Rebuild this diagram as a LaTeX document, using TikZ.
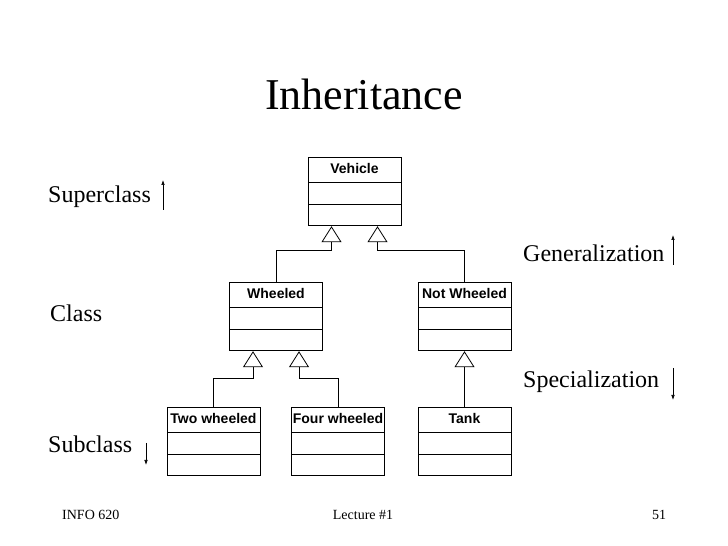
\documentclass[tikz,border=0pt]{standalone}
\usepackage{fontspec}
\setmainfont{Liberation Serif}
\setsansfont{Liberation Sans}
\usepackage{tikz}
\usetikzlibrary{shapes,arrows.meta}
\newcommand{\classstrut}{\rule[-8.5pt]{0pt}{24pt}}
\tikzset{
  every picture/.style={font={\rmfamily}, >={Latex[length=5pt,width=3.6pt]}}}

\begin{document}
\begin{tikzpicture}[x=1pt, y=1pt,
    umlclass/.style={
      draw, line width=0.8pt, anchor=north,
      font=\sffamily\bfseries\fontsize{14}{16}\selectfont,
      rectangle split,
      rectangle split parts=3,
      rectangle split empty part height=21pt,
      rectangle split empty part depth=0pt,
      inner xsep=1pt, inner ysep=0pt,
      minimum width=93pt},
    inherit/.style={draw, line width=0.8pt,
      -{Triangle[open, length=16pt, width=20pt, line width=0.8pt]}},
    sidelabel/.style={anchor=base west, inner sep=0pt,
      font=\fontsize{24}{28}\selectfont},
    updown/.style={line width=0.7pt, ->},
    footer/.style={inner sep=0pt, anchor=base,
      font=\fontsize{14}{16}\selectfont}]

    \useasboundingbox (0,0) rectangle (728,546);

    % title
    \node[inner sep=0pt, anchor=base, font=\fontsize{44}{50}\selectfont]
      (title) at (364,436) {Inheritance};

    % classes
    \node[umlclass] (vehicle) at (354.5,389) {\classstrut Vehicle};
    \node[umlclass] (wheeled) at (276,264) {\classstrut Wheeled};
    \node[umlclass] (notwheeled) at (464.5,264) {\classstrut Not Wheeled};
    \node[umlclass] (twowheeled) at (213.5,139) {\classstrut Two wheeled};
    \node[umlclass] (fourwheeled) at (338,139) {\classstrut Four wheeled};
    \node[umlclass] (tank) at (464.5,139) {\classstrut Tank};

    % generalization arrows
    \coordinate (vehicle-l) at ([xshift=-23pt]vehicle.south);
    \coordinate (vehicle-r) at ([xshift=23pt]vehicle.south);
    \coordinate (wheeled-l) at ([xshift=-23pt]wheeled.south);
    \coordinate (wheeled-r) at ([xshift=23pt]wheeled.south);

    \path[inherit] (wheeled.north) -- ++(0,32) -| (vehicle-l);
    \path[inherit] (notwheeled.north) -- ++(0,32) -| (vehicle-r);
    \path[inherit] (twowheeled.north) -- ++(0,29) -| (wheeled-l);
    \path[inherit] (fourwheeled.north) -- ++(0,29) -| (wheeled-r);
    \path[inherit] (tank.north) -- (notwheeled.south);

    % side labels
    \node[sidelabel] (super) at (48,343) {Superclass};
    \node[sidelabel] (class) at (50,224) {Class};
    \node[sidelabel] (sub) at (48,93) {Subclass};
    \node[sidelabel] (gen) at (523,284) {Generalization};
    \node[sidelabel] (spec) at (523,158) {Specialization};

    \coordinate (super-a) at (163,336);
    \coordinate (sub-a) at (146,103);
    \coordinate (gen-a) at (673,281);
    \coordinate (spec-a) at (673,178);
    \draw[updown] (super-a) -- ++(0,30);
    \draw[updown] (sub-a) -- ++(0,-22);
    \draw[updown] (gen-a) -- ++(0,30);
    \draw[updown] (spec-a) -- ++(0,-32);

    % footer
    \node[footer, anchor=base west] (course) at (62,27) {INFO 620};
    \node[footer] (lecture) at (363,27) {Lecture \#1};
    \node[footer] (page) at (659,27) {51};
  \end{tikzpicture}
\end{document}
